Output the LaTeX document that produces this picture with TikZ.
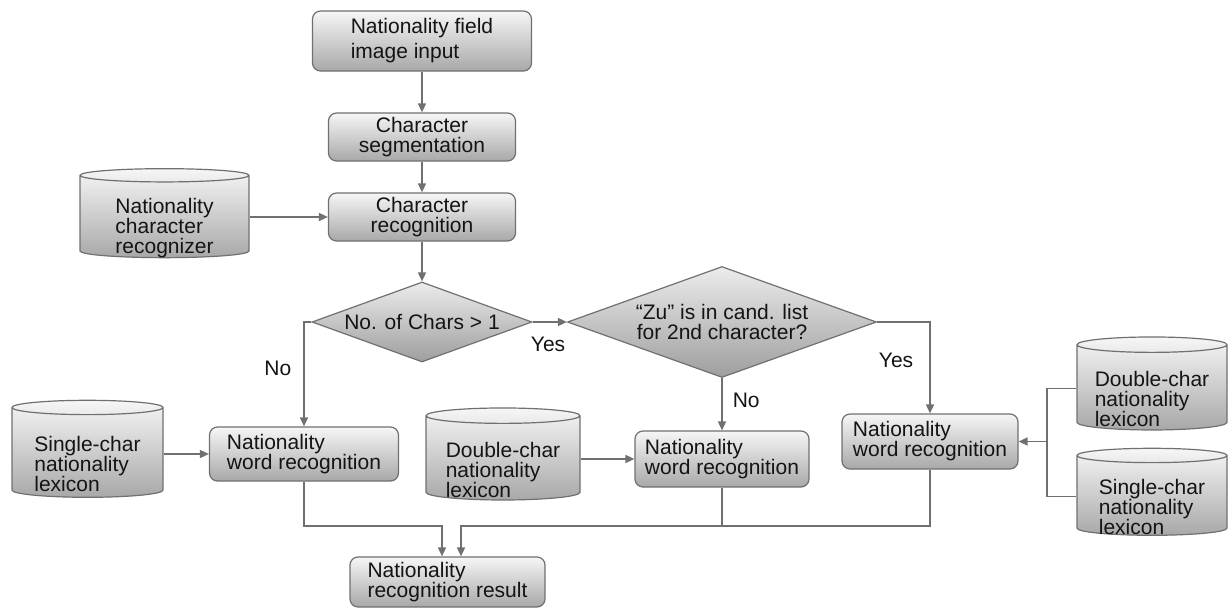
\documentclass[tikz,border=0pt]{standalone}
\usepackage{fontspec}
\setmainfont{Liberation Sans}
\usetikzlibrary{arrows.meta,shapes.geometric}
\definecolor{fcLine}{RGB}{112,112,112}
\definecolor{fcTop}{RGB}{246,246,246}
\definecolor{fcBot}{RGB}{168,168,168}
\definecolor{fcDTop}{RGB}{236,236,236}
\definecolor{fcDBot}{RGB}{158,158,158}
\definecolor{fcText}{RGB}{20,20,20}
\newcommand\fcfont{\fontsize{10.5}{10}\selectfont\lineskiplimit -5pt\relax}
\newcommand\fcfontwide{\fontsize{10.5}{12.5}\selectfont}
% lifts the top of a lexicon text so that it sits below the lid
\newcommand\dbgap{\rule{0pt}{18.5pt}}
\tikzset{
  proc/.style={draw=fcLine, line width=0.6pt, rounded corners=4pt,
    top color=fcTop, bottom color=fcBot, align=center, inner sep=1pt},
  procl/.style={proc, align=left},
  lexdb/.style={cylinder, shape border rotate=90, aspect=0.13, draw=fcLine,
    line width=0.6pt, top color=fcTop, bottom color=fcBot, align=left,
    inner xsep=1pt, inner ysep=-12pt},
  decision/.style={diamond, aspect=2.75, draw=fcLine, line width=0.6pt,
    top color=fcDTop, bottom color=fcDBot, align=center, inner sep=0pt},
  flow/.style={-{Triangle[length=4.5pt,width=4pt]}, fcLine, line width=0.8pt},
  link/.style={fcLine, line width=0.8pt},
  lbl/.style={text=fcText, inner sep=1pt}
}
\begin{document}
\begin{tikzpicture}[x=0.5pt,y=-0.5pt,
    every node/.append style={text=fcText, font=\fcfont}]
  \useasboundingbox (0,0) rectangle (1228,611);
  % main column
  \node[procl, minimum width=109.5pt, minimum height=30pt, font=\fcfontwide] (in)
    at (422,41) {Nationality field\\image input};
  \node[proc, minimum width=93.5pt, minimum height=24pt] (seg) at (422,137)
    {Character\\segmentation};
  \node[proc, minimum width=93.5pt, minimum height=24pt] (rec) at (422,217)
    {Character\\recognition};
  \node[lexdb, minimum width=84.5pt, minimum height=44.5pt] (ncr) at (164.5,217.5)
    {\dbgap Nationality\\character\\recognizer};
  % decisions
  \node[decision, minimum width=110pt, minimum height=40pt] (d1) at (422,322)
    {No. of Chars > 1};
  \node[decision, minimum width=154.5pt, minimum height=55.5pt] (d2) at (722,322)
    {“Zu” is in cand. list\\for 2nd character?};
  % word recognition
  \node[procl, minimum width=94.5pt, minimum height=27pt] (w1) at (304,454)
    {Nationality\\word recognition};
  \node[procl, minimum width=87pt, minimum height=28pt] (w2) at (722,459)
    {Nationality\\word recognition};
  \node[procl, minimum width=88pt, minimum height=27.5pt] (w3) at (930,441.5)
    {Nationality\\word recognition};
  % lexicons
  \node[lexdb, minimum width=75.5pt, minimum height=48.5pt] (sl1) at (87.5,453.5)
    {\dbgap Single-char\\nationality\\lexicon};
  \node[lexdb, minimum width=77pt, minimum height=46pt] (dl1) at (503,459)
    {\dbgap Double-char\\nationality\\lexicon};
  \node[lexdb, minimum width=75pt, minimum height=46.5pt] (dl2) at (1152,388.5)
    {\dbgap Double-char\\nationality\\lexicon};
  \node[lexdb, minimum width=75pt, minimum height=43.5pt] (sl2) at (1152,496.5)
    {\dbgap Single-char\\nationality\\lexicon};
  % result
  \node[procl, minimum width=97.5pt, minimum height=25pt] (res) at (447.5,582)
    {Nationality\\recognition result};
  \coordinate (jn) at (1047,441.5);
  \coordinate (busL) at (442,526);
  \coordinate (busR) at (461,526);
  % connectors
  \draw[flow] (in) -- (seg);
  \draw[flow] (seg) -- (rec);
  \draw[flow] (rec) -- (d1);
  \draw[flow] (ncr.east |- rec.west) -- (rec.west);
  \draw[flow] (d1.east) -- (d2.west) node[lbl, pos=0.45, below=6pt] {Yes};
  \draw[flow] (d1.west) -| (w1.north) node[lbl, pos=0.72, left=5pt] {No};
  \draw[flow] (d2.south) -- (w2.north) node[lbl, pos=0.42, right=4pt] {No};
  \draw[flow] (d2.east) -| (w3.north) node[lbl, pos=0.71, left=7pt] {Yes};
  \draw[flow] (sl1.east |- w1.west) -- (w1.west);
  \draw[flow] (dl1.east |- w2.west) -- (w2.west);
  \draw[link] (dl2.west) -- (dl2.west -| jn) -- (sl2.west -| jn) -- (sl2.west);
  \draw[flow] (jn) -- (w3.east);
  \draw[flow] (w1.south) |- (busL) -- (busL |- res.north);
  \draw[flow] (w3.south) |- (busR) -- (busR |- res.north);
  \draw[link] (w2.south) -- (w2.south |- busR);
\end{tikzpicture}
\end{document}
